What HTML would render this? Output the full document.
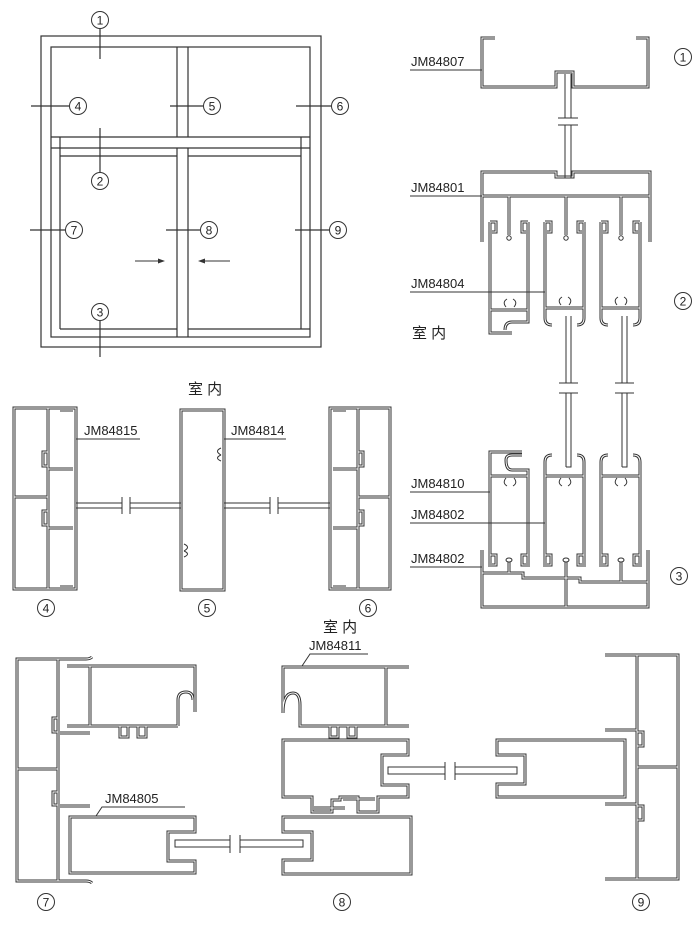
<!DOCTYPE html>
<html><head><meta charset="utf-8">
<style>
html,body{margin:0;padding:0;background:#fff;}
svg{display:block;}
text{font-family:"Liberation Sans","Noto Sans CJK SC",sans-serif;fill:#222;}
</style></head>
<body>
<svg width="700" height="926" viewBox="0 0 700 926" xmlns="http://www.w3.org/2000/svg">
<defs>
<g id="P" fill="none" stroke-linejoin="miter">
  <path d="M495 38 H482 V87 H556 V72 H573 V87 H648 V38 H636"/>
  <path d="M482 242 V172 H556 V177 H573 V172 H650 V242 M482 196 H650 M509 196 V235 M566 196 V235 M621 196 V235"/>
  <path d="M490 222 V333 H512 M528 222 V322 H512 Q505 322 505 330 M490 310 H528"/>
  <path d="M490 222 H496 V232 H492 M528 222 H522 V232 H526"/>
  <path d="M545 222 V318 Q545 325 552 325 M584 222 V318 Q584 325 577 325 M545 308 H584"/>
  <path d="M545 222 H551 V232 H547 M584 222 H578 V232 H582"/>
  <path d="M601 222 V318 Q601 325 608 325 M640 222 V318 Q640 325 633 325 M601 308 H640"/>
  <path d="M601 222 H607 V232 H603 M640 222 H634 V232 H638"/>
  <path d="M490 567 V452 H522 M528 567 V470 H512 Q506 470 506 460 Q506 455 512 455 H522 M490 476 H528"/>
  <path d="M490 555 H496 V565 H492 M528 555 H522 V565 H526"/>
  <path d="M545 567 V462 Q545 455 552 455 M584 567 V462 Q584 455 577 455 M545 476 H584"/>
  <path d="M545 555 H551 V565 H547 M584 555 H578 V565 H582"/>
  <path d="M601 567 V462 Q601 455 608 455 M640 567 V462 Q640 455 633 455 M601 476 H640"/>
  <path d="M601 555 H607 V565 H603 M640 555 H634 V565 H638"/>
  <path d="M482 550 V607 H648 V550 M482 573 H523 V578 H580 V582 H648 M566 578 V607 M509 573 V562 M566 578 V562 M621 582 V562"/>
  <path d="M14 408 V589 H76 V408 Z M48 408 V589 M14 497 H48 M48 469 H73 M48 528 H73 M48 452 H43 V466 H48 M48 511 H43 V525 H48 M60 410 H73 M60 587 H73"/>
  <path d="M181 410 V590 H224 V410 Z"/>
  <path d="M330 408 V589 H390 V408 Z M358 408 V589 M358 497 H390 M333 469 H358 M333 528 H358 M358 452 H363 V466 H358 M358 511 H363 V525 H358 M333 410 H346 M333 587 H346"/>
  <path d="M92 657 Q90 659 86 659 H17 V881 H86 Q90 881 92 883 M58 659 V881 M17 769 H58 M60 733 H90 M60 806 H90 M58 718 H53 V732 H58 M58 792 H53 V805 H58"/>
  <path d="M67 666 H195 V712 M178 726 V700 Q178 692 186 692 Q193 692 193 700 M67 726 H178 M90 666 V726 M120 726 V737 H128 V726 M138 726 V737 H146 V726"/>
  <path d="M70 817 H195 V832 H168 V861 H195 V873 H70 Z"/>
  <path d="M283 817 H411 V874 H283 V860 H312 V832 H283 Z"/>
  <path d="M283 740 H408 V755 H382 V785 H408 V797 H378 V812 H358 V797 H340 V800 H332 V812 H312 V797 H283 Z M314 808 H345 M343 799 H375"/>
  <path d="M409 667 H283 V713 Q283 693 293 693 Q300 693 300 705 V726 H409 M386 667 V726 M330 726 V737 H338 V726 M348 726 V737 H356 V726"/>
  <path d="M625 740 H497 V755 H525 V784 H497 V797 H625 Z"/>
  <path d="M605 655 H678 V879 H605 M637 655 V879 M637 767 H678 M605 730 H637 M605 804 H637 M637 732 H643 V746 H637 M637 806 H643 V820 H637"/>
</g>
</defs>

<g fill="none" stroke="#333" stroke-width="1.2">
  <rect x="41" y="36" width="280" height="311"/>
  <rect x="51" y="47" width="259" height="290"/>
  <path d="M177 47 V137 M188 47 V137 M51 137 H310 M51 148 H310"/>
  <path d="M60 137 V329 M301 137 V329 M60 156 H177 M188 156 H301 M177 148 V337 M188 148 V337 M60 329 H177 M188 329 H310"/>
  <path d="M100 29 V59 M31 106 H69 M170 106 H203 M296 106 H331 M100 128 V172 M30 230 H65 M166 230 H200 M295 230 H329 M100 321 V357"/>
  <path d="M135 261 H162 M201 261 H230" stroke-width="1"/>
</g>
<path d="M165 261 L158 258.5 L158 263.5 Z M198 261 L205 258.5 L205 263.5 Z" fill="#333"/>
<g fill="none" stroke="#333" stroke-width="1">
  <circle cx="100" cy="20" r="8.5"/><circle cx="78" cy="106" r="8.5"/><circle cx="212" cy="106" r="8.5"/>
  <circle cx="340" cy="106" r="8.5"/><circle cx="100" cy="181" r="8.5"/><circle cx="74" cy="230" r="8.5"/>
  <circle cx="209" cy="230" r="8.5"/><circle cx="338" cy="230" r="8.5"/><circle cx="100" cy="312" r="8.5"/>
  <circle cx="683" cy="57" r="8.5"/><circle cx="683" cy="301" r="8.5"/><circle cx="679" cy="576" r="8.5"/>
  <circle cx="46" cy="608" r="8.5"/><circle cx="207" cy="608" r="8.5"/><circle cx="368" cy="608" r="8.5"/>
  <circle cx="46" cy="902" r="8.5"/><circle cx="342" cy="902" r="8.5"/><circle cx="641" cy="902" r="8.5"/>
</g>
<g font-size="12" text-anchor="middle">
  <text x="100" y="24.5">1</text><text x="78" y="110.5">4</text><text x="212" y="110.5">5</text>
  <text x="340" y="110.5">6</text><text x="100" y="185.5">2</text><text x="74" y="234.5">7</text>
  <text x="209" y="234.5">8</text><text x="338" y="234.5">9</text><text x="100" y="316.5">3</text>
  <text x="683" y="61.5">1</text><text x="683" y="305.5">2</text><text x="679" y="580.5">3</text>
  <text x="46" y="612.5">4</text><text x="207" y="612.5">5</text><text x="368" y="612.5">6</text>
  <text x="46" y="906.5">7</text><text x="342" y="906.5">8</text><text x="641" y="906.5">9</text>
</g>

<use href="#P" stroke="#333" stroke-width="3"/>
<use href="#P" stroke="#fff" stroke-width="1"/>

<g fill="#fff" stroke="#333" stroke-width="1">
  <circle cx="509" cy="238" r="2.2"/><circle cx="566" cy="238" r="2.2"/><circle cx="621" cy="238" r="2.2"/>
  <ellipse cx="509" cy="560" rx="3" ry="2"/><ellipse cx="566" cy="560" rx="3" ry="2"/><ellipse cx="621" cy="560" rx="3" ry="2"/>
</g>
<g fill="none" stroke="#333" stroke-width="1">
  <path d="M506 307 Q502 302 507 299 M514 307 Q518 302 513 299 M561 305 Q557 300 562 297 M569 305 Q573 300 568 297 M617 305 Q613 300 618 297 M625 305 Q629 300 624 297"/>
  <path d="M506 478 Q502 483 507 486 M514 478 Q518 483 513 486 M561 478 Q557 483 562 486 M569 478 Q573 483 568 486 M617 478 Q613 483 618 486 M625 478 Q629 483 624 486"/>
  <path d="M221 448 Q214 451 221 455 M221 455 Q214 458 221 461 M184 544 Q191 547 184 551 M184 551 Q191 554 184 557"/>
</g>

<g fill="none" stroke="#333" stroke-width="1">
  <path d="M565 74 V118 M571 74 V118 M565 125 V178 M571 125 V178 M558 118 H578 M558 125 H578"/>
  <path d="M566 316 V383 M571 316 V383 M566 393 V467 M571 393 V467 H566 M559 383 H578 M559 393 H578"/>
  <path d="M622 316 V383 M627 316 V383 M622 393 V467 M627 393 V467 H622 M615 383 H634 M615 393 H634"/>
  <path d="M76 503 H122 V508 H76 M130 503 H181 M130 508 H181 M224 503 H270 M224 508 H270 M278 503 H330 M278 508 H330 M122 497 V514 M130 497 V514 M270 497 V514 M278 497 V514 M130 503 V508 M278 503 V508 M270 503 V508"/>
  <path d="M175 840 H230 V847 H175 Z M240 840 H303 V847 H240 Z M230 835 V853 M240 835 V853"/>
  <path d="M388 767 H445 V774 H388 Z M455 767 H517 V774 H455 Z M445 762 V780 M455 762 V780"/>
</g>

<g fill="none" stroke="#333" stroke-width="1">
  <path d="M410 70 H482 M410 196 H482 M410 292 H545 M410 492 H490 M410 523 H545 M410 567 H482"/>
  <path d="M76 439 H140 M224 439 H286 M185 807 H102 L96 816 M368 654 H310 L302 666"/>
</g>
<g font-size="13">
  <text x="411" y="66">JM84807</text><text x="411" y="192">JM84801</text><text x="411" y="288">JM84804</text>
  <text x="411" y="488">JM84810</text><text x="411" y="519">JM84802</text><text x="411" y="563">JM84802</text>
  <text x="84" y="435">JM84815</text><text x="231" y="435">JM84814</text>
  <text x="105" y="803">JM84805</text><text x="309" y="650">JM84811</text>
</g>
<g font-size="15">
  <text x="412" y="338">室 内</text><text x="188" y="394">室 内</text>
  <text x="323" y="632">室 内</text>
</g>
</svg>
</body></html>
